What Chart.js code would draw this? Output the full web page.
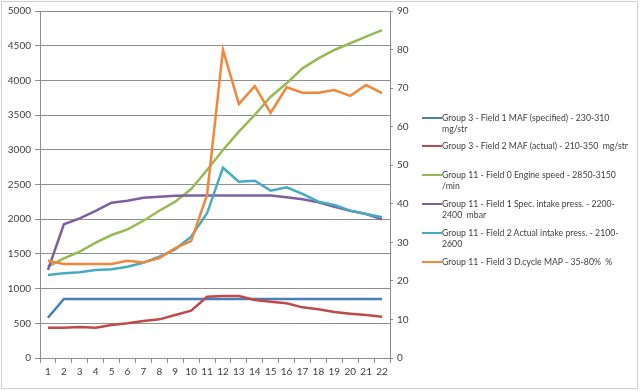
<!DOCTYPE html>
<html>
<head>
<meta charset="utf-8">
<script src="https://cdn.jsdelivr.net/npm/chart.js@4/dist/chart.umd.min.js"></script>
<style>
  html, body { margin: 0; padding: 0; background: #fff; }
  #wrap { position: relative; width: 640px; height: 391px; overflow: hidden; }
  canvas { position: absolute; left: 0; top: 0; }
  .lg { position: absolute; left: 422px; font-family: Lato, "Liberation Sans", sans-serif; font-size: 10px; color: #404040; line-height: 11px; white-space: pre; }
  .lg .sw { position: absolute; left: 0; top: 5px; width: 20px; height: 2px; }
  .lg .tx { position: absolute; left: 20px; top: 0; transform-origin: 0 0; }
</style>
</head>
<body>
<div id="wrap">
  <canvas id="c" width="640" height="391"></canvas>
  <div id="legend"></div>
</div>
<script>
const categories = ["1","2","3","4","5","6","7","8","9","10","11","12","13","14","15","16","17","18","19","20","21","22"];
const mafSpecified = [580,850,850,850,850,850,850,850,850,850,850,850,850,850,850,850,850,850,850,850,850,850];
const mafActual = [437,437,445,437,475,500,533,557,620,682,883,893,893,836,812,788,730,701,663,639,620,596];
const engineSpeed = [1316,1436,1532,1662,1772,1854,1978,2122,2252,2435,2710,2997,3261,3502,3765,3958,4174,4318,4438,4535,4630,4725];
const specIntake = [1268,1926,2012,2120,2238,2267,2310,2325,2339,2340,2340,2340,2340,2340,2340,2315,2287,2244,2180,2123,2075,2000];
const actualIntake = [1196,1220,1235,1268,1278,1316,1373,1460,1566,1748,2085,2742,2540,2555,2411,2459,2365,2252,2205,2123,2075,2027];
const dutyCycle = [25.2,24.4,24.4,24.4,24.4,25.2,24.8,25.9,28.5,30.3,42.3,79.9,65.9,70.5,63.6,70.2,68.8,68.8,69.5,68.0,70.8,68.7];
const seriesNames = [
  "Group 3 - Field 1 MAF (specified) - 230-310\nmg/str",
  "Group 3 - Field 2 MAF (actual) - 210-350  mg/str",
  "Group 11 - Field 0 Engine speed - 2850-3150\n/min",
  "Group 11 - Field 1 Spec. intake press. - 2200-\n2400  mbar",
  "Group 11 - Field 2 Actual intake press. - 2100-\n2600",
  "Group 11 - Field 3 D.cycle MAP - 35-80%  %"
];
const leftTicks = { min: 0, max: 5000, step: 500 };
const rightTicks = { min: 0, max: 90, step: 10 };

const colors = ["#4a7ebb","#be4b48","#98b954","#7d60a0","#46aac5","#f0873a"];
const seriesData = [mafSpecified, mafActual, engineSpeed, specIntake, actualIntake, dutyCycle];
const axisOf = ["y","y","y","y","y","y2"];

const font = { family: "Lato, 'Liberation Sans', sans-serif", size: 10 };
const txtColor = "#404040";
const gridColor = "#8e8e8e";

const datasets = seriesData.map((d, i) => ({
  label: seriesNames[i].replace("\n", " "),
  data: d,
  yAxisID: axisOf[i],
  borderColor: colors[i],
  backgroundColor: colors[i],
  borderWidth: 2.5,
  pointRadius: 0,
  tension: 0,
  fill: false,
  order: 6 - i
}));

const frame = {
  id: "frame",
  beforeDraw(chart) {
    const ctx = chart.ctx;
    ctx.save();
    ctx.fillStyle = "#fff";
    ctx.fillRect(0, 0, chart.width, chart.height);
    ctx.strokeStyle = "#cfcfcf";
    ctx.lineWidth = 1;
    ctx.strokeRect(1.5, 1.5, 636, 387);
    ctx.restore();
  }
};

const plain = v => String(v);

new Chart(document.getElementById("c"), {
  type: "line",
  data: { labels: categories, datasets },
  options: {
    responsive: false,
    animation: false,
    devicePixelRatio: 1,
    layout: { padding: { top: 11, left: 0, right: 0, bottom: 0 } },
    plugins: { legend: { display: false }, tooltip: { enabled: false } },
    scales: {
      x: {
        type: "category",
        offset: true,
        grid: { offset: true, drawOnChartArea: false, tickLength: 5, color: gridColor },
        border: { color: gridColor },
        ticks: { font, color: txtColor, padding: 3, maxRotation: 0, autoSkip: false },
        afterFit(s) { s.height = 33; }
      },
      y: {
        position: "left",
        min: leftTicks.min, max: leftTicks.max,
        grid: { color: gridColor, tickLength: 5 },
        border: { color: gridColor },
        ticks: { stepSize: leftTicks.step, font, color: txtColor, padding: 4, callback: plain },
        afterFit(s) { s.width = 40; }
      },
      y2: {
        position: "right",
        min: rightTicks.min, max: rightTicks.max,
        grid: { drawOnChartArea: false, color: gridColor, tickLength: 3 },
        border: { color: gridColor },
        ticks: { stepSize: rightTicks.step, font, color: txtColor, padding: 4, callback: plain },
        afterFit(s) { s.width = 250; }
      }
    }
  },
  plugins: [frame]
});

// HTML legend
const legendTops = [112, 140, 169, 198, 227, 256];
const lg = document.getElementById("legend");
const texts = [];
seriesNames.forEach((name, i) => {
  const item = document.createElement("div");
  item.className = "lg";
  item.style.top = legendTops[i] + "px";
  const sw = document.createElement("div");
  sw.className = "sw";
  sw.style.background = colors[i];
  const tx = document.createElement("div");
  tx.className = "tx";
  tx.textContent = name;
  item.appendChild(sw);
  item.appendChild(tx);
  lg.appendChild(item);
  texts.push(tx);
});
// Squeeze legend text horizontally to the reference's narrow font width
const ref = texts[1];
const w = ref.getBoundingClientRect().width;
const scale = w > 0 ? 186 / w : 0.8;
texts.forEach(t => { t.style.transform = "scaleX(" + scale + ")"; });
</script>
</body>
</html>
